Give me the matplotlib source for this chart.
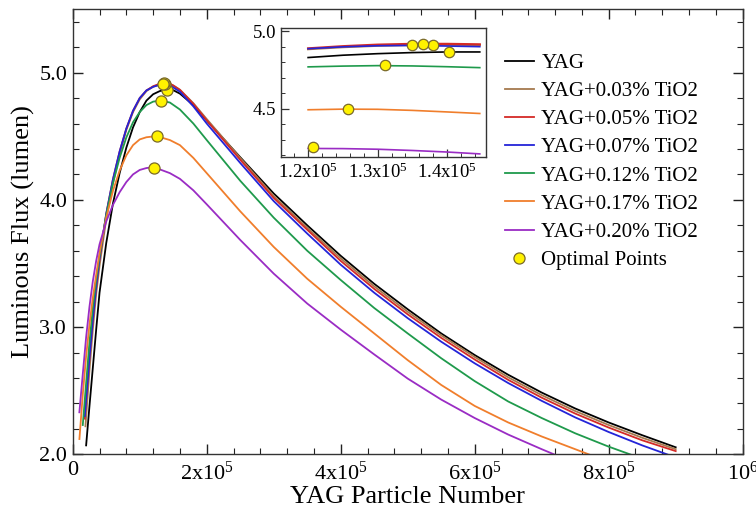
import matplotlib
matplotlib.use("Agg")
import matplotlib.pyplot as plt
from matplotlib.ticker import MultipleLocator, FixedLocator, FixedFormatter

plt.rcParams['font.family'] = ['Liberation Serif', 'DejaVu Serif']
plt.rcParams['mathtext.fontset'] = 'custom'
plt.rcParams['mathtext.rm'] = 'Liberation Serif'
plt.rcParams['mathtext.default'] = 'regular'

labels = ['YAG', 'YAG+0.03% TiO2', 'YAG+0.05% TiO2', 'YAG+0.07% TiO2',
          'YAG+0.12% TiO2', 'YAG+0.17% TiO2', 'YAG+0.20% TiO2']
colors = ['#000000', '#a57a4e', '#d42a26', '#2424d8', '#1f9a4c', '#f07e2c', '#9a2cc4']

# Main curves (x = particle number, y = luminous flux in lumen)
x_yag = [2.0e4, 2.5e4, 3.0e4, 3.5e4, 4.0e4, 5.0e4, 6.0e4, 7.0e4, 8.0e4, 9.0e4, 1.0e5, 1.1e5, 1.2e5,
         1.3e5, 1.4e5, 1.5e5, 1.6e5, 1.8e5, 2.0e5, 2.5e5, 3.0e5, 3.5e5, 4.0e5, 4.5e5, 5.0e5, 5.5e5,
         6.0e5, 6.5e5, 7.0e5, 7.5e5, 8.0e5, 8.5e5, 9.0e5]
y_yag = [2.07, 2.38, 2.68, 2.98, 3.27, 3.66, 3.97, 4.21, 4.41, 4.57, 4.69, 4.78, 4.83,
         4.855, 4.866, 4.862, 4.835, 4.745, 4.625, 4.335, 4.05, 3.80, 3.56, 3.34, 3.14, 2.95,
         2.78, 2.625, 2.485, 2.36, 2.25, 2.15, 2.055]

x_t03 = [1.9e4, 2.5e4, 3.0e4, 3.5e4, 4.0e4, 5.0e4, 6.0e4, 7.0e4, 8.0e4, 9.0e4, 1.0e5, 1.1e5, 1.2e5,
         1.3e5, 1.38e5, 1.5e5, 1.6e5, 1.8e5, 2.0e5, 2.5e5, 3.0e5, 3.5e5, 4.0e5, 4.5e5, 5.0e5, 5.5e5,
         6.0e5, 6.5e5, 7.0e5, 7.5e5, 8.0e5, 8.5e5, 9.0e5]
y_t03 = [2.22, 2.66, 2.98, 3.26, 3.48, 3.85, 4.13, 4.36, 4.55, 4.69, 4.79, 4.855, 4.89,
         4.906, 4.912, 4.90, 4.865, 4.76, 4.635, 4.33, 4.03, 3.78, 3.54, 3.32, 3.12, 2.935,
         2.765, 2.605, 2.465, 2.34, 2.23, 2.13, 2.04]

x_t05 = [1.8e4, 2.5e4, 3.0e4, 3.5e4, 4.0e4, 5.0e4, 6.0e4, 7.0e4, 8.0e4, 9.0e4, 1.0e5, 1.1e5, 1.2e5,
         1.3e5, 1.365e5, 1.45e5, 1.6e5, 1.8e5, 2.0e5, 2.5e5, 3.0e5, 3.5e5, 4.0e5, 4.5e5, 5.0e5, 5.5e5,
         6.0e5, 6.5e5, 7.0e5, 7.5e5, 8.0e5, 8.5e5, 9.0e5]
y_t05 = [2.28, 2.75, 3.05, 3.31, 3.53, 3.89, 4.16, 4.38, 4.56, 4.70, 4.80, 4.86, 4.893,
         4.913, 4.92, 4.915, 4.865, 4.755, 4.625, 4.315, 4.015, 3.765, 3.52, 3.30, 3.10, 2.915,
         2.745, 2.585, 2.445, 2.32, 2.21, 2.11, 2.025]

x_t07 = [1.8e4, 2.5e4, 3.0e4, 3.5e4, 4.0e4, 5.0e4, 6.0e4, 7.0e4, 8.0e4, 9.0e4, 1.0e5, 1.1e5, 1.2e5,
         1.3e5, 1.35e5, 1.45e5, 1.6e5, 1.8e5, 2.0e5, 2.5e5, 3.0e5, 3.5e5, 4.0e5, 4.5e5, 5.0e5, 5.5e5,
         6.0e5, 6.5e5, 7.0e5, 7.5e5, 8.0e5, 8.5e5, 9.0e5]
y_t07 = [2.30, 2.76, 3.06, 3.32, 3.54, 3.89, 4.16, 4.38, 4.56, 4.70, 4.80, 4.86, 4.888,
         4.905, 4.908, 4.90, 4.85, 4.735, 4.60, 4.29, 3.99, 3.735, 3.49, 3.27, 3.07, 2.885,
         2.715, 2.56, 2.42, 2.29, 2.175, 2.07, 1.975]

x_t12 = [1.5e4, 2.0e4, 2.5e4, 3.0e4, 3.5e4, 4.0e4, 5.0e4, 6.0e4, 7.0e4, 8.0e4, 9.0e4, 1.0e5, 1.1e5,
         1.2e5, 1.31e5, 1.45e5, 1.6e5, 1.8e5, 2.0e5, 2.5e5, 3.0e5, 3.5e5, 4.0e5, 4.5e5, 5.0e5, 5.5e5,
         6.0e5, 6.5e5, 7.0e5, 7.5e5, 8.0e5, 8.5e5]
y_t12 = [2.23, 2.56, 2.88, 3.15, 3.37, 3.56, 3.88, 4.13, 4.33, 4.49, 4.61, 4.69, 4.745,
         4.772, 4.78, 4.765, 4.71, 4.60, 4.47, 4.15, 3.86, 3.60, 3.37, 3.15, 2.95, 2.755,
         2.575, 2.415, 2.285, 2.165, 2.06, 1.965]

x_t17 = [1.0e4, 1.5e4, 2.0e4, 2.5e4, 3.0e4, 3.5e4, 4.0e4, 5.0e4, 6.0e4, 7.0e4, 8.0e4, 9.0e4, 1.0e5,
         1.1e5, 1.2e5, 1.257e5, 1.45e5, 1.6e5, 1.8e5, 2.0e5, 2.5e5, 3.0e5, 3.5e5, 4.0e5, 4.5e5,
         5.0e5, 5.5e5, 6.0e5, 6.5e5, 7.0e5, 7.5e5, 8.0e5]
y_t17 = [2.12, 2.47, 2.77, 3.02, 3.23, 3.41, 3.58, 3.86, 4.07, 4.23, 4.35, 4.43, 4.475,
         4.492, 4.498, 4.50, 4.47, 4.43, 4.33, 4.21, 3.91, 3.63, 3.38, 3.16, 2.95,
         2.74, 2.545, 2.38, 2.25, 2.14, 2.04, 1.94]

x_t20 = [9.9e3, 1.5e4, 2.0e4, 2.5e4, 3.0e4, 3.5e4, 4.0e4, 5.0e4, 6.0e4, 7.0e4, 8.0e4, 9.0e4, 1.0e5,
         1.1e5, 1.21e5, 1.45e5, 1.6e5, 1.8e5, 2.0e5, 2.5e5, 3.0e5, 3.5e5, 4.0e5, 4.5e5, 5.0e5,
         5.5e5, 6.0e5, 6.5e5, 7.0e5, 7.5e5]
y_t20 = [2.33, 2.63, 2.92, 3.16, 3.36, 3.52, 3.65, 3.83, 3.96, 4.06, 4.14, 4.20, 4.235,
         4.25, 4.257, 4.21, 4.165, 4.075, 3.965, 3.685, 3.42, 3.185, 2.98, 2.785, 2.595,
         2.43, 2.285, 2.155, 2.04, 1.93]

# Inset (zoom near the maxima)
x_in = [1.2e5, 1.25e5, 1.3e5, 1.35e5, 1.4e5, 1.447e5]
yin_yag = [4.830, 4.845, 4.855, 4.862, 4.866, 4.866]
yin_t03 = [4.884, 4.897, 4.906, 4.911, 4.912, 4.910]
yin_t05 = [4.889, 4.903, 4.913, 4.918, 4.918, 4.915]
yin_t07 = [4.887, 4.899, 4.906, 4.908, 4.904, 4.900]
yin_t12 = [4.770, 4.775, 4.778, 4.776, 4.771, 4.765]
yin_t17 = [4.494, 4.498, 4.497, 4.490, 4.480, 4.470]
yin_t20 = [4.245, 4.244, 4.240, 4.232, 4.222, 4.210]

# Optimal points
opt_x = [1.403e5, 1.38e5, 1.365e5, 1.35e5, 1.311e5, 1.257e5, 1.2077e5]
opt_y = [4.867, 4.912, 4.920, 4.908, 4.780, 4.502, 4.252]

main_x = [x_yag, x_t03, x_t05, x_t07, x_t12, x_t17, x_t20]
main_y = [y_yag, y_t03, y_t05, y_t07, y_t12, y_t17, y_t20]
inset_y = [yin_yag, yin_t03, yin_t05, yin_t07, yin_t12, yin_t17, yin_t20]

xticks = [0, 2e5, 4e5, 6e5, 8e5, 1e6]
xticklabels = ['0', '2x10$^{5}$', '4x10$^{5}$', '6x10$^{5}$', '8x10$^{5}$', '10$^{6}$']
yticks = [2.0, 3.0, 4.0, 5.0]
yticklabels = ['2.0', '3.0', '4.0', '5.0']
in_xticks = [1.2e5, 1.3e5, 1.4e5]
in_xticklabels = ['1.2x10$^{5}$', '1.3x10$^{5}$', '1.4x10$^{5}$']
in_yticks = [4.5, 5.0]
in_yticklabels = ['4.5', '5.0']

fig = plt.figure(figsize=(7.56, 5.18), dpi=100)
ax = fig.add_axes([0.0962, 0.1230, 0.8862, 0.8596])

for i in range(len(labels)):
    ax.plot(main_x[i], main_y[i], color=colors[i], lw=1.3, label=labels[i], zorder=2)
ax.plot(opt_x, opt_y, 'o', ms=8, mfc='#fff200', mec='#7a6a2a', mew=0.9, ls='none',
        label='Optimal Points', zorder=5)

ax.set_xlim(0, 1e6)
ax.set_ylim(2.0, 5.5)
ax.xaxis.set_major_locator(FixedLocator(xticks))
ax.xaxis.set_major_formatter(FixedFormatter(xticklabels))
ax.xaxis.set_minor_locator(MultipleLocator(4e4))
ax.yaxis.set_major_locator(FixedLocator(yticks))
ax.yaxis.set_major_formatter(FixedFormatter(yticklabels))
ax.yaxis.set_minor_locator(MultipleLocator(0.2))
ax.tick_params(which='both', direction='in', top=True, right=True, colors='#222222',
               labelsize=16, labelcolor='black')
ax.tick_params(which='major', length=7, width=1)
ax.tick_params(which='minor', length=4, width=0.8)
ax.tick_params(axis='x', pad=5)
ax.tick_params(axis='y', pad=4)
for s in ax.spines.values():
    s.set_color('#333333')
    s.set_linewidth(1.0)
ax.set_xlabel('YAG Particle Number', fontsize=19, labelpad=1)
ax.set_ylabel('Luminous Flux (lumen)', fontsize=19, labelpad=3)

leg = ax.legend(loc='upper left', bbox_to_anchor=(0.645, 0.9), frameon=False, fontsize=15,
                handlelength=1.4, handletextpad=0.35, labelspacing=0.41, borderpad=0,
                borderaxespad=0)

# Inset
axin = fig.add_axes([0.3717, 0.6969, 0.2712, 0.2490])
for i in range(len(labels)):
    axin.plot(x_in, inset_y[i], color=colors[i], lw=1.6 if i in (1, 2) else 1.2, zorder=2)
axin.plot(opt_x, opt_y, 'o', ms=7.5, mfc='#fff200', mec='#7a6a2a', mew=0.9, ls='none', zorder=5)
axin.set_xlim(1.161e5, 1.456e5)
axin.set_ylim(4.19, 5.02)
axin.xaxis.set_major_locator(FixedLocator(in_xticks))
axin.xaxis.set_major_formatter(FixedFormatter(in_xticklabels))
axin.xaxis.set_minor_locator(MultipleLocator(2e3))
axin.yaxis.set_major_locator(FixedLocator(in_yticks))
axin.yaxis.set_major_formatter(FixedFormatter(in_yticklabels))
axin.yaxis.set_minor_locator(MultipleLocator(0.1))
axin.tick_params(which='both', direction='in', colors='#333333', labelsize=13.5, labelcolor='black')
axin.tick_params(which='major', length=6, width=0.9)
axin.tick_params(which='minor', length=3, width=0.7)
axin.tick_params(axis='x', pad=4)
for s in axin.spines.values():
    s.set_color('#333333')
    s.set_linewidth(1.0)

fig.savefig('out.png', dpi=100)
